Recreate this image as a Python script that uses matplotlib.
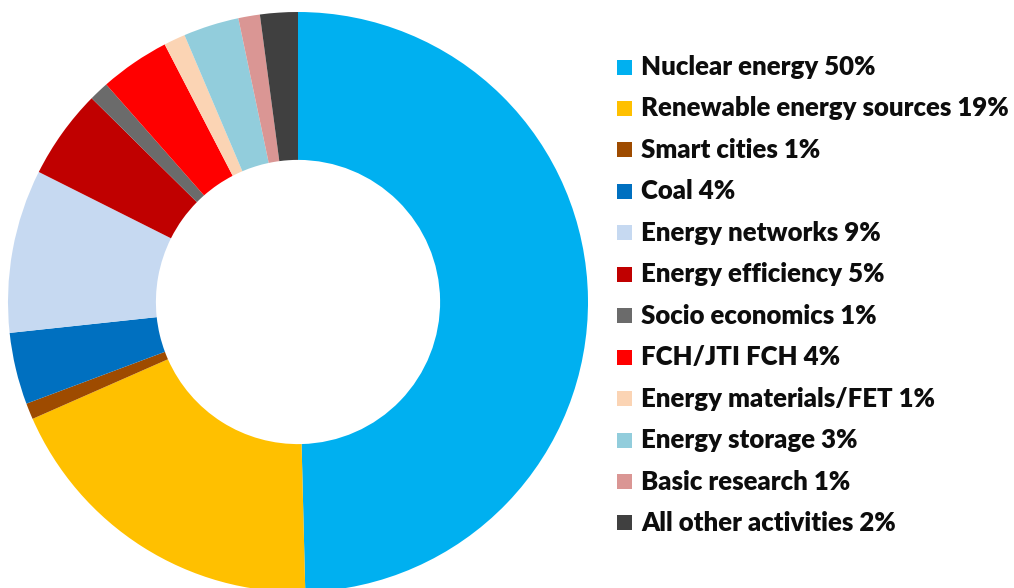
import matplotlib
matplotlib.use('Agg')
import matplotlib.pyplot as plt
from matplotlib.patches import Rectangle

# shares in %, legend shows them rounded
names = ['Nuclear energy', 'Renewable energy sources', 'Smart cities', 'Coal',
         'Energy networks', 'Energy efficiency', 'Socio economics', 'FCH/JTI FCH',
         'Energy materials/FET', 'Energy storage', 'Basic research',
         'All other activities']
shares = [49.6, 18.8, 0.9, 4.0, 9.1, 5.0, 1.1, 3.9, 1.2, 3.1, 1.2, 2.1]
colors = ['#00B0F0', '#FFC000', '#9E4B00', '#0070C0', '#C6D9F1', '#C00000',
          '#6B6B6B', '#FF0000', '#FBD4B4', '#92CDDC', '#DA9694', '#404040']

W, H = 1014, 588
fig = plt.figure(figsize=(W / 100, H / 100), dpi=100)

# donut: centre (298, 302) px, outer radius 290 px
cx, cy, r = 298, 302, 290
ax = fig.add_axes([(cx - r) / W, (H - cy - r) / H, 2 * r / W, 2 * r / H])
ax.pie(shares, colors=colors, startangle=90, counterclock=False, radius=1,
       wedgeprops=dict(width=0.51, linewidth=0))
ax.set_xlim(-1, 1)
ax.set_ylim(-1, 1)
ax.set_aspect('equal')
ax.axis('off')

# legend, drawn by hand to match the row spacing
x_box, x_text = 617, 641
y_first, step = 67, 41.45
box = 15
for i, (name, v, c) in enumerate(zip(names, shares, colors)):
    y = y_first + i * step
    fig.patches.append(Rectangle((x_box / W, (H - y - box / 2) / H), box / W, box / H,
                                 transform=fig.transFigure, facecolor=c, edgecolor='none'))
    fig.text(x_text / W, (H - y) / H, f'{name} {v:.0f}%', ha='left', va='center',
             fontsize=18.5, fontweight='heavy', family=['Lato', 'DejaVu Sans'],
             color='#0d0d0d')

fig.savefig('out.png', dpi=100)
